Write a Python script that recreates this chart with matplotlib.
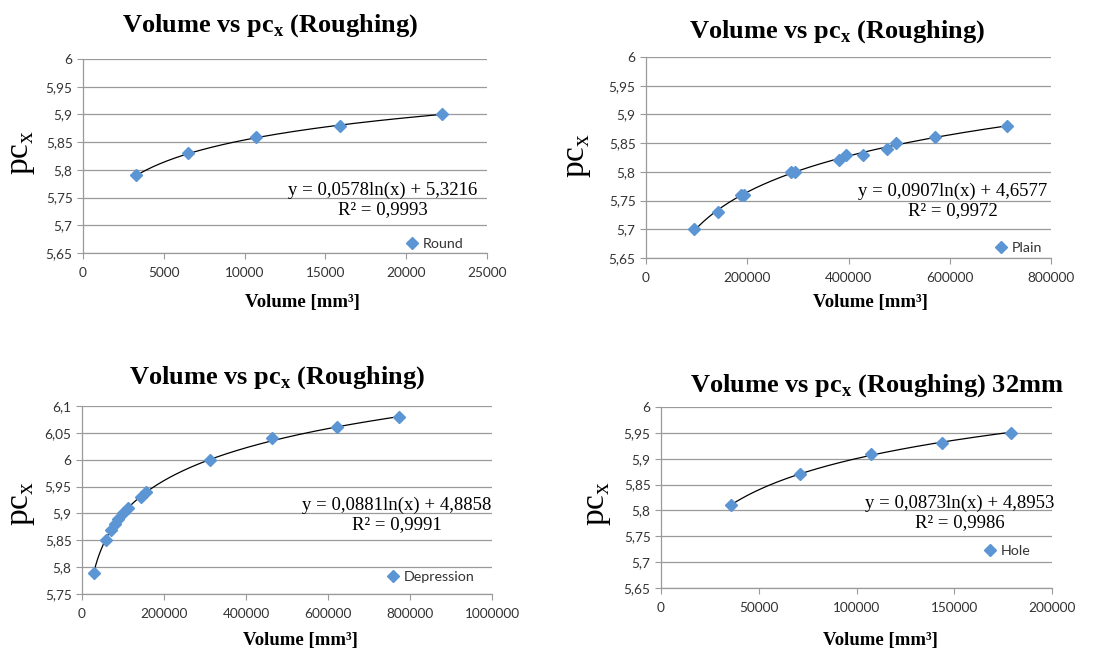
import numpy as np
import matplotlib
matplotlib.use("Agg")
import matplotlib.pyplot as plt
from matplotlib.ticker import FuncFormatter, MultipleLocator

plt.rcParams['mathtext.fontset'] = 'custom'
plt.rcParams['mathtext.rm'] = 'Liberation Serif'

# data
round_vol = [3300, 6500, 10700, 15900, 22200]
round_pc = [5.79, 5.83, 5.86, 5.88, 5.90]

plain_vol = [95000, 142000, 188000, 194000, 287000, 295000, 381000,
             395000, 429000, 476000, 494000, 571000, 713000]
plain_pc = [5.70, 5.73, 5.76, 5.76, 5.80, 5.80, 5.82,
            5.83, 5.83, 5.84, 5.85, 5.86, 5.88]

dep_vol = [30000, 59000, 71000, 80000, 89000, 100000, 112000,
           143000, 155000, 311000, 463000, 622000, 774000]
dep_pc = [5.79, 5.85, 5.87, 5.88, 5.89, 5.90, 5.91,
          5.93, 5.94, 6.00, 6.04, 6.06, 6.08]

hole_vol = [35800, 71300, 107500, 143700, 179200]
hole_pc = [5.81, 5.87, 5.91, 5.93, 5.95]

# log trendline coefficients shown on the chart
fit_a = [0.0578, 0.0907, 0.0881, 0.0873]
fit_b = [5.3216, 4.6577, 4.8858, 4.8953]
fit_r2 = [0.9993, 0.9972, 0.9991, 0.9986]

names = ['Round', 'Plain', 'Depression', 'Hole']
titles = ['Volume vs pc$_\\mathregular{x}$ (Roughing)'] * 3 + \
         ['Volume vs pc$_\\mathregular{x}$ (Roughing) 32mm']

W, H = 1109, 653
fig = plt.figure(figsize=(W / 100, H / 100), dpi=100)

# panel geometry in pixels: axes (left, right, top, bottom), title, ylabel, xlabel, eq, legend
panels = [
    dict(box=(83, 487, 59, 253), xlim=(0, 25000), xstep=5000, ylim=(5.65, 6.0),
         title=(270, 26), ylab=(22, 152), xlab=(302, 302), eq=(383, 200), leg=(413, 244)),
    dict(box=(646, 1051, 57, 258), xlim=(0, 800000), xstep=200000, ylim=(5.65, 6.0),
         title=(837, 32), ylab=(578, 155), xlab=(870, 302), eq=(953, 201), leg=(1002, 248)),
    dict(box=(82, 492, 406, 594), xlim=(0, 1000000), xstep=200000, ylim=(5.75, 6.1),
         title=(277, 378), ylab=(22, 503), xlab=(300, 640), eq=(397, 515), leg=(394, 577)),
    dict(box=(661, 1052, 407, 588), xlim=(0, 200000), xstep=50000, ylim=(5.65, 6.0),
         title=(877, 386), ylab=(598, 503), xlab=(880, 640), eq=(960, 513), leg=(991, 551)),
]
xs = [round_vol, plain_vol, dep_vol, hole_vol]
ys = [round_pc, plain_pc, dep_pc, hole_pc]


def comma(v, pos):
    return ('%g' % round(v, 4)).replace('.', ',')


def whole(v, pos):
    return '%d' % round(v)


blue = '#5B95D4'
grid_c = '#9a9a9a'

for i, p in enumerate(panels):
    l, r, t, b = p['box']
    ax = fig.add_axes([l / W, 1 - b / H, (r - l) / W, (b - t) / H])
    ax.set_xlim(*p['xlim'])
    ax.set_ylim(*p['ylim'])
    ax.xaxis.set_major_locator(MultipleLocator(p['xstep']))
    ax.yaxis.set_major_locator(MultipleLocator(0.05))
    ax.xaxis.set_major_formatter(FuncFormatter(whole))
    ax.yaxis.set_major_formatter(FuncFormatter(comma))
    for lab in ax.get_xticklabels() + ax.get_yticklabels():
        lab.set_fontfamily('Lato')
        lab.set_fontsize(9.8)
        lab.set_color('#333333')
    ax.tick_params(axis='both', direction='out', length=4, width=0.8, color=grid_c)
    ax.tick_params(axis='x', pad=6)
    ax.tick_params(axis='y', pad=3.5)
    ax.grid(axis='y', color=grid_c, linewidth=0.9)
    ax.set_axisbelow(True)
    for s in ['top', 'right']:
        ax.spines[s].set_visible(False)
    for s in ['left', 'bottom']:
        ax.spines[s].set_color(grid_c)
        ax.spines[s].set_linewidth(0.9)

    # trendline from the displayed equation
    xx = np.linspace(min(xs[i]), max(xs[i]), 200)
    ax.plot(xx, fit_a[i] * np.log(xx) + fit_b[i], color='black', linewidth=0.9, zorder=2)
    ax.plot(xs[i], ys[i], linestyle='none', marker='D', markersize=6,
            color=blue, label=names[i], zorder=3)

    eq = ('y = %.4fln(x) + %.4f\nR² = %.4f' % (fit_a[i], fit_b[i], fit_r2[i])).replace('.', ',')
    fig.text(p['eq'][0] / W, 1 - p['eq'][1] / H, eq, ha='center', va='center',
             multialignment='center', family='Liberation Serif', fontsize=13.5,
             linespacing=1.15)

    lx, ly = p['leg']
    leg = ax.legend(loc='center left', frameon=False, handlelength=0.9, handletextpad=0.3,
                    borderpad=0, borderaxespad=0,
                    bbox_to_anchor=((lx - 7) / W, 1 - ly / H),
                    bbox_transform=fig.transFigure,
                    prop=dict(family='Lato', size=10.3))
    for txt in leg.get_texts():
        txt.set_color('#333333')

    fig.text(p['title'][0] / W, 1 - p['title'][1] / H, titles[i], ha='center', va='center',
             family='Liberation Serif', fontweight='bold', fontsize=19)
    fig.text(p['ylab'][0] / W, 1 - p['ylab'][1] / H, 'pc$_\\mathregular{x}$', ha='center',
             va='center', rotation=90, family='Liberation Serif', fontsize=24)
    fig.text(p['xlab'][0] / W, 1 - p['xlab'][1] / H, 'Volume [mm³]', ha='center',
             va='center', family='Liberation Serif', fontweight='bold', fontsize=13.5)

fig.savefig('out.png', dpi=100)
